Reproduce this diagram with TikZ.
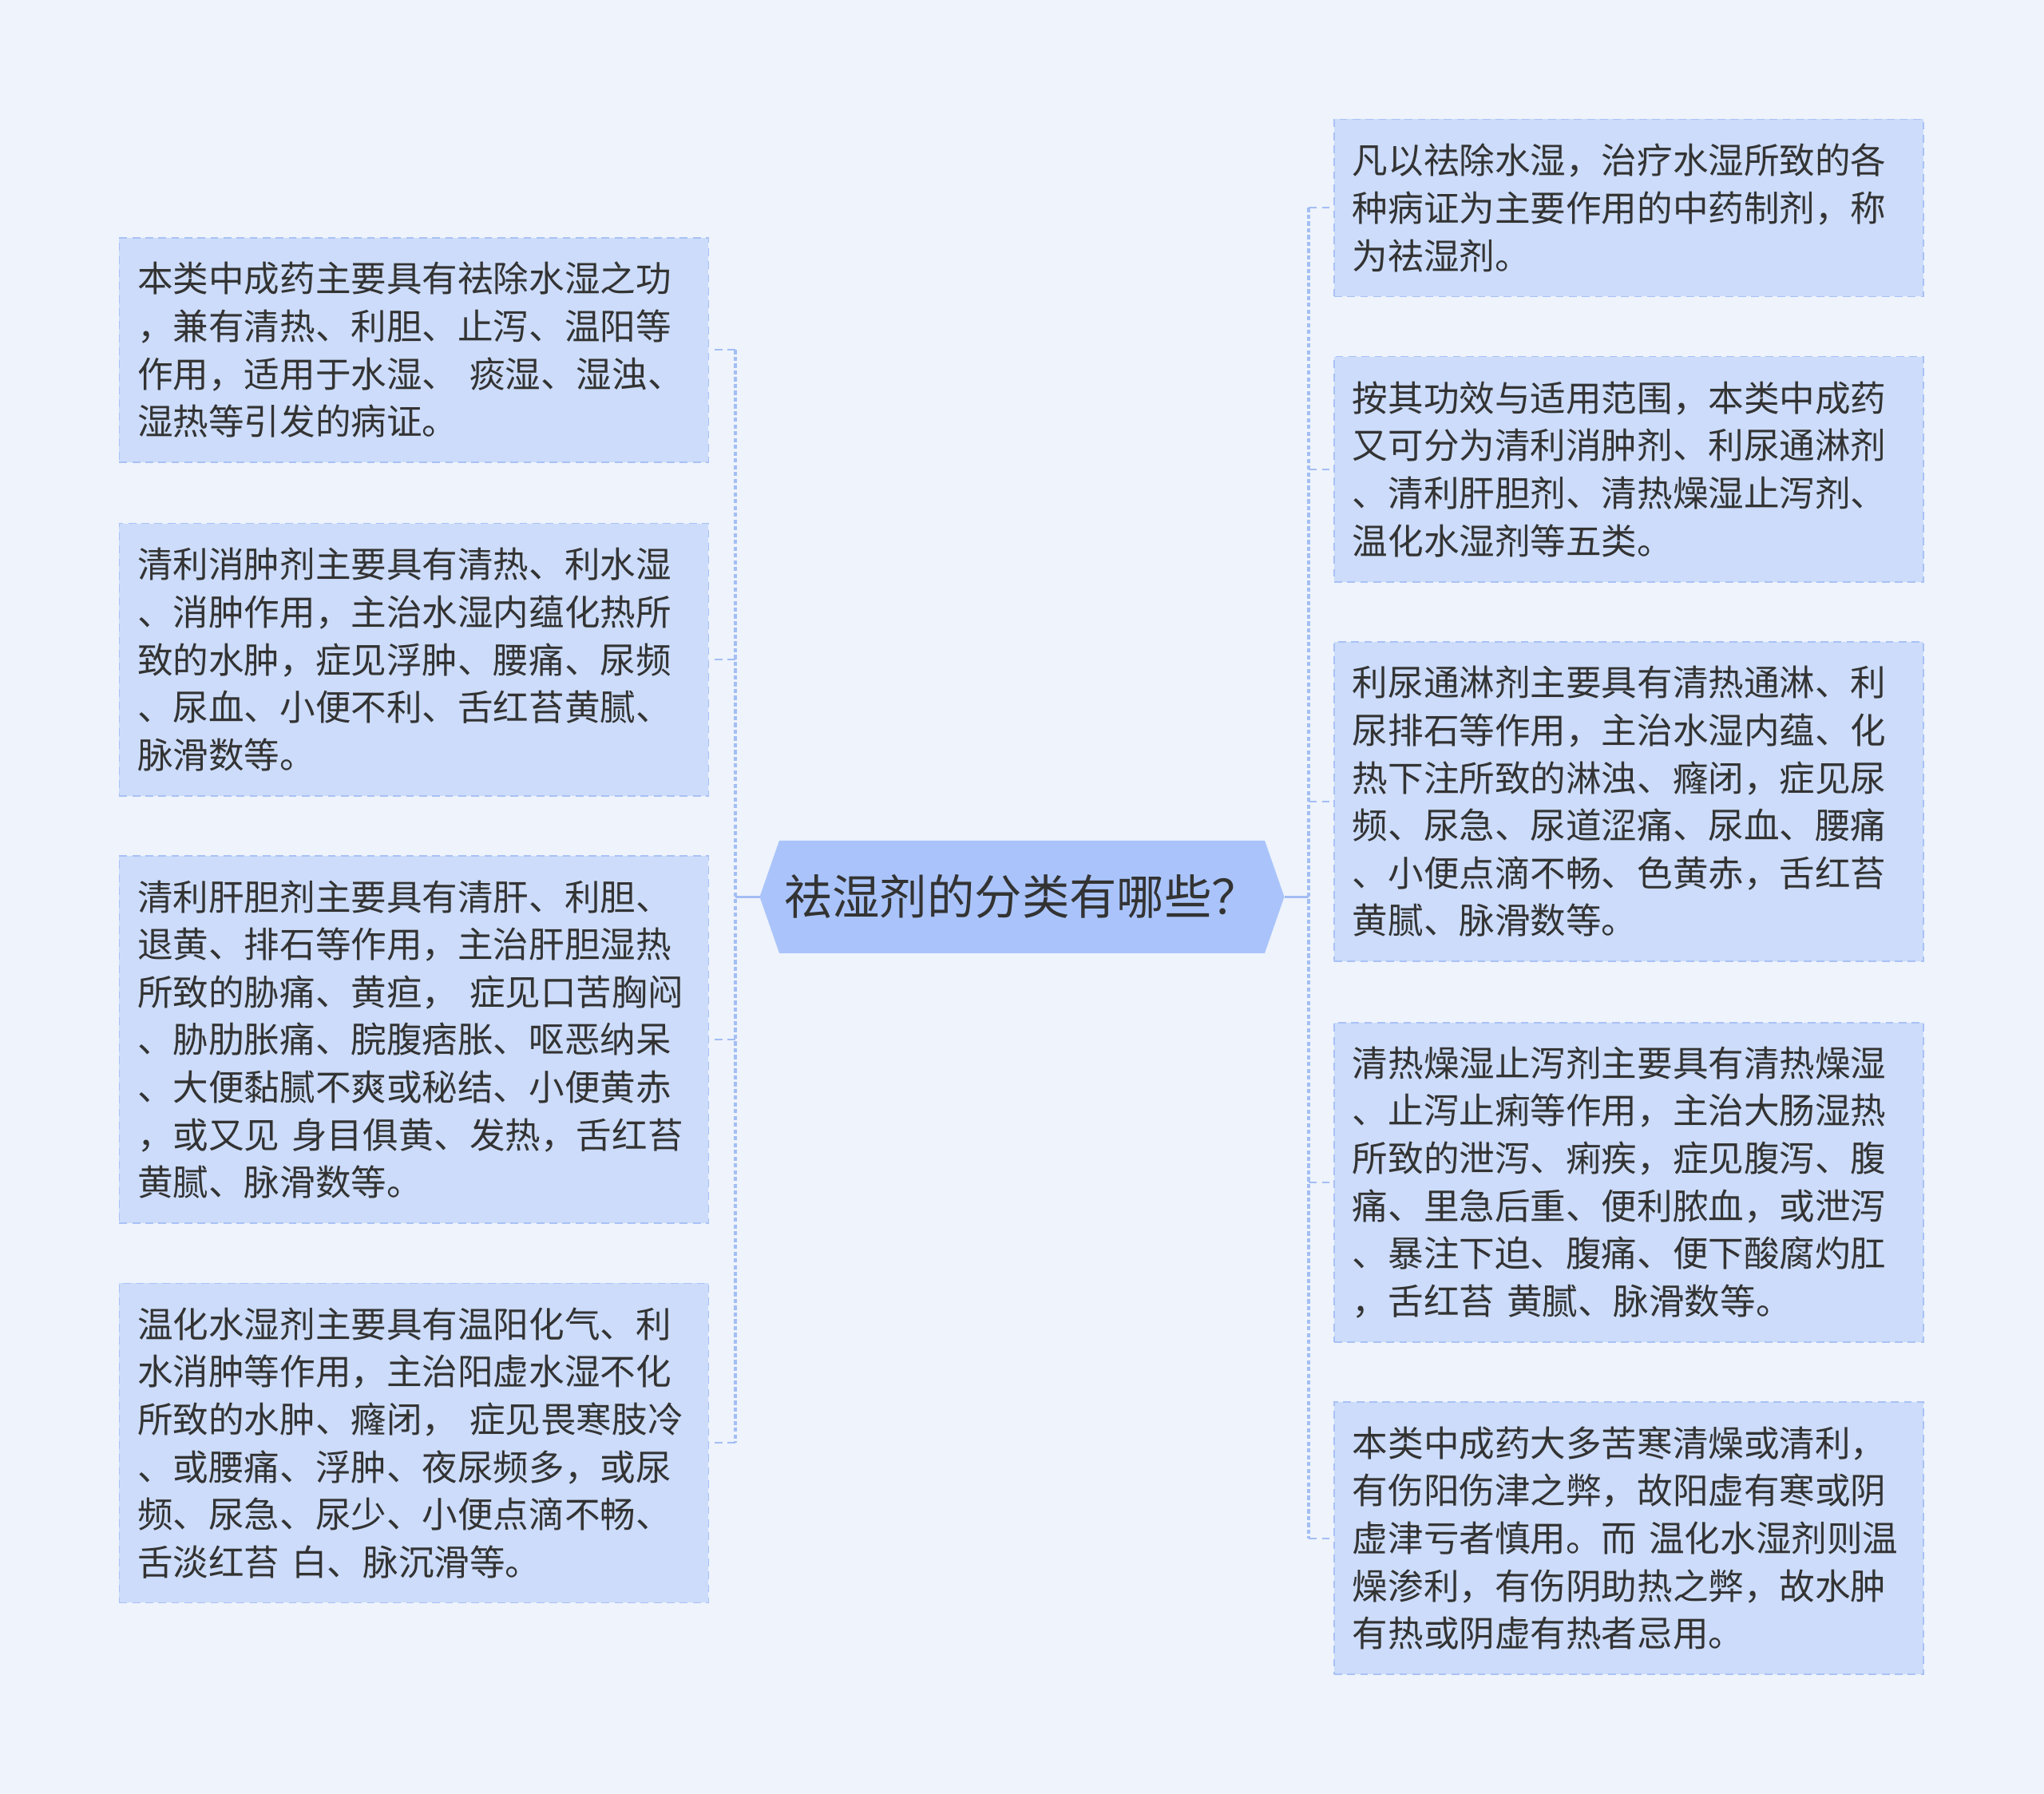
\documentclass[tikz,border=0pt]{standalone}
\usepackage{fontspec}
\newfontfamily\cjk{Noto Sans CJK SC}
\usetikzlibrary{calc}
\definecolor{bgc}{HTML}{EEF3FC}
\definecolor{boxfill}{HTML}{CCDCFA}
\definecolor{bord}{HTML}{A9C1F5}
\definecolor{cfill}{HTML}{AAC4FB}
\definecolor{conn}{HTML}{A4BEF4}
\definecolor{txt}{HTML}{333333}
\begin{document}
\begin{tikzpicture}[x=1pt,y=-1pt,
  box/.style={draw=bord, fill=boxfill, line width=1pt, dash pattern=on 6pt off 4pt,
    inner xsep=14pt, inner ysep=0pt, align=left, text width=424pt, anchor=north west,
    font=\cjk\fontsize{27.3pt}{36.5pt}\selectfont, text=txt},
  trunk/.style={draw=conn, line width=2.6pt, dash pattern=on 3.2pt off 2pt},
  branch/.style={draw=conn, line width=1.2pt, dash pattern=on 6pt off 4pt},
  link/.style={draw=conn, line width=1.6pt}]
\fill[bgc] (0,0) rectangle (1568,1376);
\useasboundingbox (0,0) rectangle (1568,1376);

% centre
\node[minimum width=402pt, minimum height=86pt, inner sep=0pt] (Cbox) at (784,688) {};
\fill[cfill] (Cbox.west) -- ([xshift=15pt]Cbox.north west) -- ([xshift=-15pt]Cbox.north east)
  -- (Cbox.east) -- ([xshift=-15pt]Cbox.south east) -- ([xshift=15pt]Cbox.south west) -- cycle;
\node[font=\cjk\fontsize{36.4pt}{40pt}\selectfont, text=txt, inner sep=0pt] (C) at (784,688) {祛湿剂的分类有哪些？};

% left boxes
\node[box, minimum height=172pt] (L1) at (91,182) {本类中成药主要具有祛除水湿之功\\，兼有清热、利胆、止泻、温阳等\\作用，适用于水湿、~痰湿、湿浊、\\湿热等引发的病证。};
\node[box, minimum height=209pt] (L2) at (91,401) {清利消肿剂主要具有清热、利水湿\\、消肿作用，主治水湿内蕴化热所\\致的水肿，症见浮肿、腰痛、尿频\\、尿血、小便不利、舌红苔黄腻、\\脉滑数等。};
\node[box, minimum height=282pt] (L3) at (91,656) {清利肝胆剂主要具有清肝、利胆、\\退黄、排石等作用，主治肝胆湿热\\所致的胁痛、黄疸，~症见口苦胸闷\\、胁肋胀痛、脘腹痞胀、呕恶纳呆\\、大便黏腻不爽或秘结、小便黄赤\\，或又见~身目俱黄、发热，舌红苔\\黄腻、脉滑数等。};
\node[box, minimum height=245pt] (L4) at (91,984) {温化水湿剂主要具有温阳化气、利\\水消肿等作用，主治阳虚水湿不化\\所致的水肿、癃闭，~症见畏寒肢冷\\、或腰痛、浮肿、夜尿频多，或尿\\频、尿急、尿少、小便点滴不畅、\\舌淡红苔~白、脉沉滑等。};

% right boxes
\node[box, minimum height=136pt] (R1) at (1023,91) {凡以祛除水湿，治疗水湿所致的各\\种病证为主要作用的中药制剂，称\\为祛湿剂。};
\node[box, minimum height=173pt] (R2) at (1023,273) {按其功效与适用范围，本类中成药\\又可分为清利消肿剂、利尿通淋剂\\、清利肝胆剂、清热燥湿止泻剂、\\温化水湿剂等五类。};
\node[box, minimum height=245pt] (R3) at (1023,492) {利尿通淋剂主要具有清热通淋、利\\尿排石等作用，主治水湿内蕴、化\\热下注所致的淋浊、癃闭，症见尿\\频、尿急、尿道涩痛、尿血、腰痛\\、小便点滴不畅、色黄赤，舌红苔\\黄腻、脉滑数等。};
\node[box, minimum height=245pt] (R4) at (1023,784) {清热燥湿止泻剂主要具有清热燥湿\\、止泻止痢等作用，主治大肠湿热\\所致的泄泻、痢疾，症见腹泻、腹\\痛、里急后重、便利脓血，或泄泻\\、暴注下迫、腹痛、便下酸腐灼肛\\，舌红苔~黄腻、脉滑数等。};
\node[box, minimum height=209pt] (R5) at (1023,1075) {本类中成药大多苦寒清燥或清利，\\有伤阳伤津之弊，故阳虚有寒或阴\\虚津亏者慎用。而~温化水湿剂则温\\燥渗利，有伤阴助热之弊，故水肿\\有热或阴虚有热者忌用。};

% connectors
\coordinate (tl) at (564,688);
\coordinate (tr) at (1004,688);
\draw[link] (Cbox.west) -- (tl);
\draw[link] (Cbox.east) -- (tr);
\draw[trunk] (tl |- L1.east) -- (tl |- L4.east);
\draw[trunk] (tr |- R1.west) -- (tr |- R5.west);
\foreach \n in {L1,L2,L3,L4} \draw[branch] (tl |- \n.east) -- (\n.east);
\foreach \n in {R1,R2,R3,R4,R5} \draw[branch] (tr |- \n.west) -- (\n.west);
\end{tikzpicture}
\end{document}
